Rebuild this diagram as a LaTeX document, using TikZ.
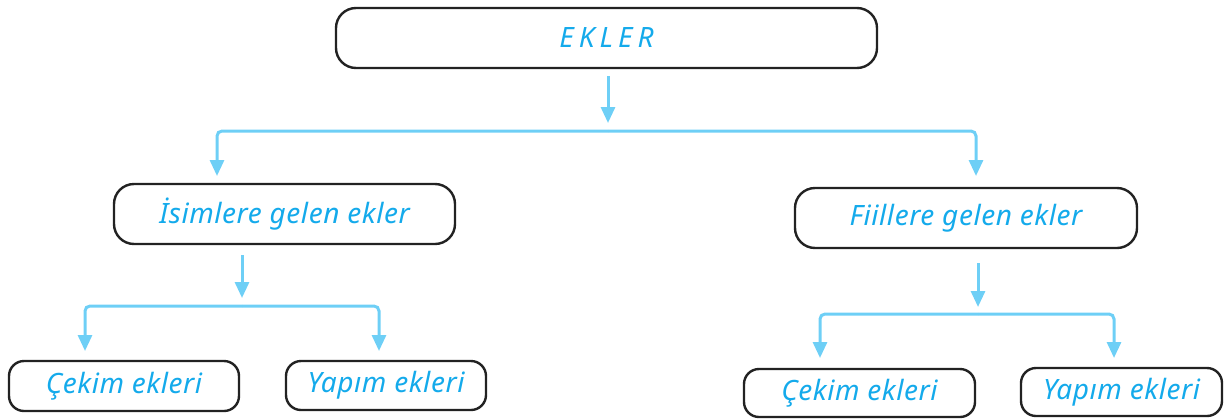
\documentclass[tikz,border=0pt]{standalone}
\usepackage{fontspec}
\setmainfont{Noto Sans}
\usetikzlibrary{arrows.meta}
\definecolor{txtc}{RGB}{20,170,235}
\definecolor{arrc}{RGB}{110,207,246}
\definecolor{boxc}{RGB}{34,34,34}
\tikzset{
  box/.style={draw=boxc, line width=2.4pt, rectangle, inner sep=0pt, text=txtc,
    font=\fontsize{28}{32}\selectfont\itshape\addfontfeatures{LetterSpace=2}},
  bigbox/.style={box, rounded corners=20pt},
  smallbox/.style={box, rounded corners=15pt},
  arr/.style={draw=arrc, line width=3pt, rounded corners=5pt,
    -{Triangle[length=16pt,width=14pt]}}
}
\begin{document}
\begin{tikzpicture}[x=1pt,y=-1pt]
\useasboundingbox (0,0) rectangle (1225,418);
% nodes
\node[bigbox, minimum width=541pt, minimum height=60pt] (ekler) at (606.5,38) {\addfontfeatures{LetterSpace=18}EKLER};
\node[bigbox, minimum width=341pt, minimum height=60pt] (isim) at (284.5,214) {İsimlere gelen ekler};
\node[bigbox, minimum width=342pt, minimum height=60pt] (fiil) at (966,218) {Fiillere gelen ekler};
\node[smallbox, minimum width=230pt, minimum height=50pt] (cek1) at (124,386) {Çekim ekleri};
\node[smallbox, minimum width=200pt, minimum height=49pt] (yap1) at (386,385.5) {Yapım ekleri};
\node[smallbox, minimum width=231pt, minimum height=48pt] (cek2) at (859.5,393) {Çekim ekleri};
\node[smallbox, minimum width=201pt, minimum height=48pt] (yap2) at (1121.5,392) {Yapım ekleri};
% junction coordinates
\coordinate (j1) at (608,131);
\coordinate (a1) at (217,176);
\coordinate (a2) at (976,176);
\coordinate (j2) at (242,306);
\coordinate (b1) at (85,351);
\coordinate (b2) at (379,351);
\coordinate (j3) at (978,314);
\coordinate (c1) at (820,358);
\coordinate (c2) at (1114,358);
% connectors
\draw[arr, shorten <=7pt, shorten >=8pt] (ekler.south -| j1) -- (j1);
\draw[arr] (j1) -| (a1);
\draw[arr] (j1) -| (a2);
\draw[arr, shorten <=10pt, shorten >=8pt] (isim.south -| j2) -- (j2);
\draw[arr] (j2) -| (b1);
\draw[arr] (j2) -| (b2);
\draw[arr, shorten <=14pt, shorten >=7pt] (fiil.south -| j3) -- (j3);
\draw[arr] (j3) -| (c1);
\draw[arr] (j3) -| (c2);
\end{tikzpicture}
\end{document}
